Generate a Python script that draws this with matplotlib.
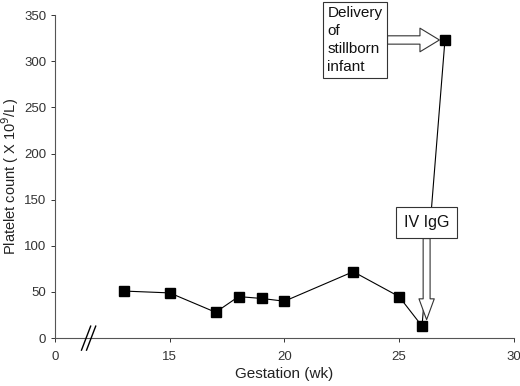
import matplotlib
matplotlib.use("Agg")
import matplotlib.pyplot as plt

plt.rcParams['font.family'] = ['Liberation Sans', 'DejaVu Sans']

weeks = [13, 15, 17, 18, 19, 20, 23, 25, 26, 27]
platelets = [51, 49, 28, 45, 43, 40, 72, 45, 13, 323]
xtick_pos = [10, 15, 20, 25, 30]
xtick_labels = ["0", "15", "20", "25", "30"]
yticks = [0, 50, 100, 150, 200, 250, 300, 350]

fig = plt.figure(figsize=(5.2, 3.86), dpi=100)
ax = fig.add_axes([0.106, 0.124, 0.882, 0.837])

ax.plot(weeks, platelets, color='black', lw=0.8, marker='s', ms=6.5,
        mfc='black', mec='black', zorder=3)

ax.set_xlim(10, 30)
ax.set_ylim(0, 350)
ax.set_xticks(xtick_pos)
ax.set_xticklabels(xtick_labels)
ax.set_yticks(yticks)
for s in ['top', 'right']:
    ax.spines[s].set_visible(False)
for s in ['left', 'bottom']:
    ax.spines[s].set_color('#555555')
    ax.spines[s].set_linewidth(0.8)
ax.tick_params(axis='both', labelsize=9.5, colors='#333333', length=3, width=0.7)
ax.tick_params(axis='x', pad=6)
ax.set_xlabel("Gestation (wk)", fontsize=11, color='#222222', labelpad=3)
ax.set_ylabel("Platelet count ( X 10$^9$/L)", fontsize=10.5, color='#222222', labelpad=4)
ax.yaxis.set_label_coords(-0.074, 0.5)

# axis break marks
for dx in (0.0, 0.22):
    ax.plot([11.15 + dx, 11.55 + dx], [-13, 13], color='black', lw=1.0,
            clip_on=False, zorder=4)

# annotations
ax.annotate("Delivery\nof\nstillborn\ninfant", xy=(weeks[-1], platelets[-1]),
            xytext=(-90, 0), textcoords='offset pixels', ha='center', va='center',
            fontsize=11, multialignment='left', color='#111111', linespacing=1.35,
            zorder=5,
            bbox=dict(boxstyle='square,pad=0.3', fc='white', ec='#333333', lw=0.8),
            arrowprops=dict(arrowstyle='simple,head_length=14,head_width=17,tail_width=6',
                            mutation_scale=1, fc='white', ec='#333333', lw=0.8,
                            shrinkA=0, shrinkB=4))

ax.annotate("IV IgG", xy=(weeks[-2] + 0.2, platelets[-2] + 7),
            xytext=(0, 97), textcoords='offset pixels', ha='center', va='center',
            fontsize=11.5, color='#111111', zorder=5,
            bbox=dict(boxstyle='square,pad=0.5', fc='white', ec='#333333', lw=0.8),
            arrowprops=dict(arrowstyle='simple,head_length=15,head_width=11,tail_width=5',
                            mutation_scale=1, fc='white', ec='#333333', lw=0.8,
                            shrinkA=0, shrinkB=0))

fig.savefig("out.png", dpi=100)
